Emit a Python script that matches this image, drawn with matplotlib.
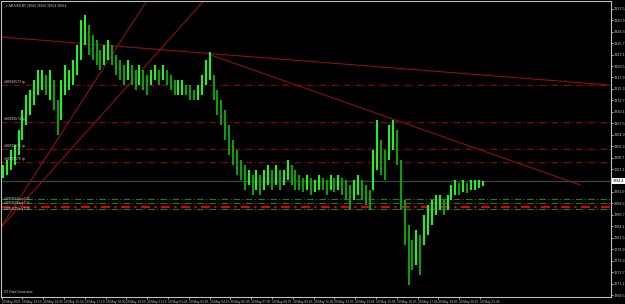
import numpy as np
import matplotlib.pyplot as plt

# XAUUSD M5, aggregated 15 min candles (3 bars each)
highs = [3298.0, 3299.2, 3301.4, 3302.6, 3306.0, 3310.5, 3313.9, 3315.1, 3317.3, 3319.6,
         3319.6, 3318.5, 3319.6, 3317.3, 3312.8, 3317.3, 3320.7, 3319.6, 3321.9, 3325.3,
         3331.0, 3332.1, 3329.8, 3327.6, 3326.4, 3324.1, 3325.3, 3326.4, 3325.3, 3323.0,
         3321.9, 3320.7, 3321.9, 3320.7, 3319.6, 3320.7, 3319.6, 3318.5, 3319.6, 3320.7,
         3319.6, 3320.7, 3319.6, 3318.5, 3317.3, 3317.3, 3317.3, 3316.2, 3316.2, 3315.1,
         3316.2, 3318.5, 3321.9, 3323.7, 3318.5, 3315.1, 3312.8, 3310.5, 3307.1, 3303.7,
         3301.4, 3299.2, 3298.0, 3296.9, 3295.8, 3296.9, 3295.8, 3296.9, 3298.0, 3296.9,
         3298.0, 3296.9, 3296.9, 3299.2, 3298.0, 3296.9, 3295.8, 3295.1, 3295.8, 3295.1,
         3294.6, 3295.8, 3295.1, 3294.6, 3295.8, 3295.1, 3295.8, 3295.1, 3294.6, 3293.5,
         3294.6, 3295.8, 3294.6, 3293.5, 3292.4, 3301.4, 3308.2, 3303.7, 3301.4, 3307.1,
         3308.2, 3306.0, 3299.2, 3290.1, 3284.4, 3281.0, 3283.3, 3282.1, 3286.7, 3288.9,
         3290.1, 3291.2, 3291.2, 3290.1, 3291.2, 3293.5, 3294.6, 3293.9, 3294.6, 3293.9,
         3294.6, 3294.6, 3294.6, 3294.4]
lows = [3295.1, 3295.8, 3296.9, 3298.0, 3300.3, 3303.7, 3307.1, 3309.4, 3311.7, 3313.9,
        3315.1, 3313.9, 3312.8, 3310.5, 3304.8, 3308.2, 3313.9, 3315.1, 3316.2, 3318.5,
        3321.9, 3325.3, 3323.0, 3321.9, 3320.7, 3319.6, 3320.7, 3321.9, 3320.7, 3318.5,
        3317.3, 3316.2, 3317.3, 3316.2, 3315.1, 3316.2, 3315.1, 3313.9, 3316.2, 3317.3,
        3316.2, 3317.3, 3316.2, 3315.1, 3313.9, 3313.9, 3313.9, 3313.9, 3312.8, 3312.8,
        3312.8, 3313.9, 3316.2, 3317.3, 3312.8, 3309.4, 3307.1, 3303.7, 3300.3, 3298.0,
        3295.8, 3294.6, 3292.4, 3293.5, 3291.2, 3292.4, 3291.2, 3292.4, 3293.5, 3292.4,
        3293.5, 3292.4, 3293.5, 3294.6, 3293.5, 3292.4, 3292.4, 3291.9, 3292.4, 3291.2,
        3291.9, 3292.4, 3292.4, 3291.2, 3292.4, 3291.9, 3292.4, 3291.2, 3290.1, 3287.8,
        3290.1, 3291.2, 3290.1, 3288.9, 3287.8, 3292.4, 3296.9, 3295.8, 3294.6, 3299.2,
        3301.4, 3298.0, 3287.8, 3279.9, 3270.8, 3274.2, 3275.3, 3273.0, 3279.9, 3282.1,
        3284.4, 3286.7, 3287.8, 3286.7, 3287.8, 3290.1, 3291.2, 3291.2, 3291.9, 3291.7,
        3292.4, 3292.4, 3292.8, 3293.3]

time_labels = ["29 May 2025", "29 May 13:10", "29 May 14:30", "29 May 15:50", "29 May 17:10",
               "29 May 18:30", "29 May 19:50", "29 May 21:10", "30 May 01:45", "30 May 03:05",
               "30 May 04:25", "30 May 05:45", "30 May 07:05", "30 May 08:25", "30 May 09:45",
               "30 May 11:05", "30 May 12:25", "30 May 13:45", "30 May 15:05", "30 May 16:25",
               "30 May 17:45", "30 May 19:05", "30 May 20:25", "30 May 21:45"]

price_levels = [3316.2, 3307.8, 3301.7, 3298.7]          # dark red order lines
order_labels = ["#80819573 tp", "#80819574 tp", "#80819575 tp", "#80819576 tp"]
green_levels = [3290.3, 3289.4, 3288.0]
green_labels = ["#80819573 buy 0.10", "#80819574 buy 0.10", "#80819575 buy 0.10"]
red_levels = [3288.6]
last_price = 3294.4

# trend lines: (bar, price) pairs
trend_lines = [((-1, 3327.1), (467, 3316.2)),
               ((159, 3323.2), (445, 3293.5)),
               ((-1, 3283.7), (112, 3335.5)),
               ((-1, 3283.7), (156, 3335.5))]

plt.rcParams['font.family'] = ['Liberation Sans', 'DejaVu Sans']

W, H = 625, 304
fig = plt.figure(figsize=(W / 100, H / 100), dpi=100, facecolor='black')
ax = fig.add_axes([1 / W, 7 / H, 610 / W, 296 / H], facecolor='black')

bar_px = 1.3
ax.set_xlim(-0.5, -0.5 + 610 / bar_px)
ax.set_ylim(3268.05, 3335.27)

for lv in price_levels:
    ax.axhline(lv, color='#8b0000', lw=0.8, ls=(0, (6, 2, 1, 2)))
for lv in green_levels:
    ax.axhline(lv, color='#1f7a1f', lw=0.8, ls=(0, (6, 2, 1, 2)))
for lv in red_levels:
    ax.axhline(lv, color='#e00000', lw=1.6, ls=(0, (4, 2, 1, 2)))
ax.axhline(last_price, color='#3a3f44', lw=1.0)

for (xa, ya), (xb, yb) in trend_lines:
    ax.plot([xa, xb], [ya, yb], color='#8b1010', lw=0.8)

highs = np.array(highs)
lows = np.array(lows)
xs = 3 * np.arange(len(highs)) + 1
mid = (highs + lows) / 2
up = np.r_[True, mid[1:] >= mid[:-1]]
cols = np.where(up, '#22f022', '#0c9c0c')
ax.vlines(xs, lows, highs, colors=cols, lw=1.5)

for lv, txt in zip(price_levels, order_labels):
    ax.text(2, lv + 0.3, txt, color='#d0d0d0', fontsize=2.4, va='bottom')
for lv, txt in zip(green_levels, green_labels):
    ax.text(2, lv, txt, color='#d8d8d8', fontsize=2.0, va='center')

# axes styling
for s in ax.spines.values():
    s.set_color('#c0c0c0')
    s.set_linewidth(0.8)
ax.yaxis.tick_right()
yt = [3268.5 + 2.6 * k for k in range(26) if k != 10]
ax.set_yticks(yt)
ax.set_yticklabels([f"{v:.1f}" for v in yt])
ax.set_xticks([16 * k for k in range(len(time_labels))])
ax.set_xticklabels(time_labels, ha='left')
ax.tick_params(axis='y', colors='#c8c8c8', labelsize=2.7, length=1.5, width=0.6, pad=0.8)
ax.tick_params(axis='x', colors='#c8c8c8', labelsize=2.3, length=1.5, width=0.6, pad=0.3)

ax.text(1.003, last_price, f"{last_price:.1f}", transform=ax.get_yaxis_transform(),
        fontsize=2.7, color='black', va='center', ha='left',
        bbox=dict(boxstyle='square,pad=0.15', fc='white', ec='none'))

ax.text(0.008, 0.99, "\u25be XAUUSD,M5 3294.0 3294.6 3294.4 3294.4", transform=ax.transAxes,
        color='#d0d0d0', fontsize=2.2, va='top', ha='left')
ax.text(0.005, 0.01, "ST Data Generator", transform=ax.transAxes,
        color='#d0d0d0', fontsize=2.4, va='bottom', ha='left')

fig.savefig('out.png', dpi=100, facecolor='black')
